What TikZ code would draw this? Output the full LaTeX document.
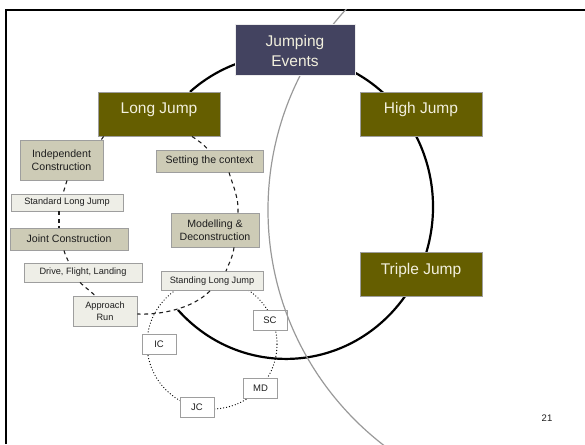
\documentclass[tikz,border=0pt]{standalone}
\usepackage{fontspec}
\setmainfont{Liberation Sans}
\definecolor{slate}{RGB}{67,67,96}
\definecolor{olivebox}{RGB}{101,94,0}
\definecolor{khaki}{RGB}{205,203,182}
\definecolor{pale}{RGB}{238,238,231}
\definecolor{edgegray}{RGB}{158,158,158}
\definecolor{cream}{RGB}{242,240,222}
\definecolor{inkdark}{RGB}{30,30,30}
\begin{document}
\begin{tikzpicture}[x=1pt,y=1pt,
  box/.style={rectangle, inner sep=0pt, draw=edgegray, line width=0.9pt, align=center, text=inkdark},
  bigbox/.style={box, fill=olivebox, text=cream, font=\fontsize{15.5}{19}\selectfont,
                 minimum width=122, minimum height=44},
  tanbox/.style={box, fill=khaki, font=\fontsize{10.6}{13.5}\selectfont},
  palebox/.style={box, fill=pale, font=\fontsize{9.2}{12.5}\selectfont},
  tagbox/.style={box, fill=white, font=\fontsize{9.5}{11}\selectfont,
                 minimum width=34, minimum height=20},
  dashlink/.style={draw=inkdark, line width=1.1pt, dash pattern=on 4pt off 3.5pt},
  dotring/.style={draw=black, line width=1.3pt, line cap=round, dash pattern=on 0pt off 3pt},
  ring/.style={draw=black, line width=2.2pt},
  arcgray/.style={draw=gray!80, line width=1.2pt}]
\useasboundingbox (0,0) rectangle (585,444);

% slide frame
\draw[line width=2.2pt] (6,0) -- (6,434) -- (585,434);

% main ring of events and the small cycle of stages
\coordinate (junction) at (178,134);
\draw[ring] (junction) arc[start angle=222.7, end angle=490.8, x radius=147, y radius=152];
\coordinate (cyclecentre) at (212,100);
\draw[dotring] (cyclecentre) circle[radius=65];

% small stage labels
\node[tagbox] (sc) at (270,123.5) {SC};
\node[tagbox] (ic) at (159,100) {IC};
\node[tagbox] (md) at (260.5,56) {MD};
\node[tagbox] (jc) at (197,37) {JC};

% teaching steps
\node[tanbox, minimum width=83, minimum height=40] (indep) at (61.5,284) {Independent\\Construction};
\node[tanbox, minimum width=107, minimum height=22] (ctx) at (209.5,283) {Setting the context};
\node[palebox, minimum width=112, minimum height=17] (std) at (67,241.5) {Standard Long Jump};
\node[tanbox, minimum width=88, minimum height=34] (model) at (215,214) {Modelling \&\\Deconstruction};
\node[tanbox, minimum width=118, minimum height=22] (joint) at (69,205) {Joint Construction};
\node[palebox, minimum width=118, minimum height=19] (drive) at (83,171.5) {Drive, Flight, Landing};
\node[palebox, minimum width=102, minimum height=19] (stand) at (212,163) {Standing Long Jump};
\node[palebox, minimum width=64, minimum height=30] (approach) at (105,133) {Approach\\Run};

% large background arc
\begin{scope}
  \clip (6,0) rectangle (585,434);
  \draw[arcgray] (565,234) circle[radius=297];
\end{scope}

% events (titles sit in the upper part of their boxes)
\node[box, fill=slate, draw=white!85!gray, line width=1pt, text=cream,
      font=\fontsize{15.5}{20}\selectfont, minimum width=120, minimum height=51] (je) at (295,393.5) {Jumping\\Events};
\node[bigbox] (lj) at (159,330) {\smash{Long Jump}};
\node[bigbox] (hj) at (421,330) {\smash{High Jump}};
\node[bigbox] (tj) at (421,169.5) {\smash{Triple Jump}};

% page number
\node[font=\fontsize{9.5}{11}\selectfont, text=inkdark] (pagenum) at (547,26) {21};

% left sequence
\draw[dashlink] ([xshift=6]lj.south west) -- ([xshift=-2]indep.north east);
\draw[dashlink] ([xshift=5.5]indep.south) -- ([xshift=-4]std.north);
\draw[dashlink] ([xshift=-8]std.south) -- ([xshift=-10]joint.north);
\draw[dashlink] ([xshift=-5]joint.south) .. controls +(1,-4) and +(-2,4) .. ([xshift=-14]drive.north);
\draw[dashlink] ([xshift=-3]drive.south) .. controls +(5,-5) and +(-5,5) .. ([xshift=-10]approach.north);

% right sequence
\draw[dashlink] ([xshift=33]lj.south) .. controls +(6,-4) and +(-4,5) .. ([xshift=-1.5]ctx.north);
\draw[dashlink] ([xshift=19.5]ctx.south) .. controls +(4,-13) and +(1,14) .. ([xshift=23]model.north);
\draw[dashlink] ([xshift=19]model.south) .. controls +(-1,-9) and +(3,8) .. ([xshift=14]stand.north);
\draw[dashlink] ([xshift=-2]stand.south) .. controls +(-18,-18) and +(23,-1) .. ([yshift=-3]approach.east);
\end{tikzpicture}
\end{document}
